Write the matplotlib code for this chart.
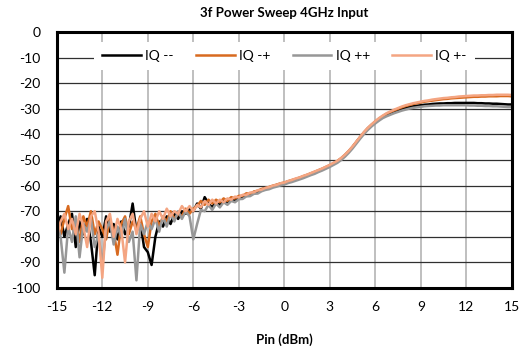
import numpy as np
import matplotlib.pyplot as plt

plt.rcParams['font.family'] = ['Lato', 'DejaVu Sans']
plt.rcParams['axes.unicode_minus'] = False

# input power sweep, 0.25 dBm step
pin = np.arange(-15, 15.001, 0.25)

iq_mm = [-78, -72, -80, -75, -71, -84, -74, -79, -73, -82, -95, -76, -80, -72, -78, -75,
         -81, -74, -79, -76, -67, -78, -74, -84, -86, -91, -80, -74, -76, -72, -75, -71,
         -73, -70, -71, -69, -70,
         -67, -69, -64.5, -67, -68.5, -66, -67.5, -65.5, -66.5, -65, -66, -64.5, -64.5, -63.5,
         -63.5, -62.5, -62.5, -61.5, -61, -60.8, -60.2, -59.8, -59.3, -59.0, -58.4, -58.0,
         -57.5, -57.0, -56.5, -55.9, -55.3, -54.8, -54.1, -53.5, -52.8, -52.1, -51.3, -50.5,
         -49.4, -48.1, -46.6, -44.9, -43.0, -41.1, -39.3, -37.7, -36.3, -35.1, -34.0, -33.1,
         -32.3, -31.7, -31.1, -30.6, -30.1, -29.7, -29.3, -29.0, -28.8, -28.6, -28.4, -28.3,
         -28.1, -28.0, -27.9, -27.9, -27.8, -27.8, -27.7, -27.7, -27.7, -27.7, -27.7, -27.7,
         -27.8, -27.8, -27.9, -27.9, -28.0, -28.0, -28.1, -28.2, -28.3, -28.3]

iq_mp = [-76, -79, -73, -68, -77, -74, -82, -72, -76, -70, -79, -74, -77, -81, -73, -78,
         -87, -75, -72, -79, -74, -77, -72, -79, -84, -74, -71, -76, -72, -74, -70, -73,
         -71, -72, -69, -71, -69,
         -68, -66, -67.5, -65.5, -67, -65.5, -66.5, -65, -66, -64.5, -65, -64, -64, -63,
         -63.2, -62.3, -62, -61.3, -61, -60.5, -60, -59.6, -59.1, -58.8, -58.3, -57.8,
         -57.4, -56.9, -56.3, -55.8, -55.2, -54.6, -54.0, -53.4, -52.7, -52.0, -51.2, -50.4,
         -49.3, -48.0, -46.5, -44.8, -42.9, -41.0, -39.2, -37.6, -36.2, -34.9, -33.8, -32.8,
         -31.9, -31.2, -30.6, -30.0, -29.4, -28.9, -28.5, -28.1, -27.8, -27.5, -27.2, -27.0,
         -26.8, -26.6, -26.4, -26.2, -26.1, -25.9, -25.8, -25.7, -25.6, -25.5, -25.4, -25.3,
         -25.3, -25.2, -25.2, -25.1, -25.1, -25.1, -25.0, -25.0, -25.0, -25.1]

iq_pp = [-74, -80, -94, -76, -82, -72, -88, -75, -78, -73, -84, -79, -91, -77, -74, -83,
         -76, -80, -73, -82, -78, -97, -75, -79, -74, -77, -73, -78, -72, -76, -71, -74,
         -70, -73, -70, -72, -81,
         -75, -69.5, -70, -67.5, -69.5, -67, -68.5, -66.5, -67.5, -66, -66.5, -65.3, -65.2,
         -64.2, -64.1, -63.2, -63.1, -62.2, -61.7, -61.4, -60.8, -60.4, -59.9, -59.6, -59.0,
         -58.6, -58.1, -57.6, -57.1, -56.5, -55.9, -55.4, -54.7, -54.1, -53.4, -52.7, -51.9,
         -51.1, -50.0, -48.7, -47.2, -45.5, -43.6, -41.7, -39.9, -38.3, -36.9, -35.7, -34.6,
         -33.6, -32.9, -32.3, -31.7, -31.2, -30.7, -30.3, -29.9, -29.6, -29.4, -29.2, -29.0,
         -28.9, -28.8, -28.7, -28.7, -28.6, -28.6, -28.6, -28.6, -28.6, -28.6, -28.6, -28.7,
         -28.7, -28.8, -28.8, -28.9, -28.9, -29.0, -29.0, -29.1, -29.2, -29.3, -29.3]

iq_pm = [-80, -74, -71, -77, -73, -79, -71, -76, -84, -72, -70, -78, -96, -74, -71, -80,
         -73, -77, -90, -74, -71, -79, -73, -70, -76, -71, -74, -70, -73, -69, -72, -70,
         -71, -68, -70, -68, -70,
         -67.5, -68.5, -66, -67.5, -65.5, -67, -65.5, -66.5, -65, -65.5, -64.3, -64.6, -63.6,
         -63.6, -62.7, -62.6, -61.8, -61.6, -60.9, -60.6, -60.0, -59.7, -59.1, -58.8, -58.2,
         -57.8, -57.2, -56.8, -56.2, -55.7, -55.1, -54.5, -53.9, -53.3, -52.6, -51.9, -51.1,
         -50.3, -49.2, -47.9, -46.4, -44.7, -42.8, -40.9, -39.1, -37.5, -36.1, -34.8, -33.6,
         -32.6, -31.7, -31.0, -30.3, -29.7, -29.1, -28.6, -28.2, -27.8, -27.5, -27.2, -26.9,
         -26.7, -26.4, -26.2, -26.0, -25.8, -25.7, -25.5, -25.4, -25.2, -25.1, -25.0, -24.9,
         -24.8, -24.8, -24.7, -24.7, -24.6, -24.6, -24.5, -24.5, -24.5, -24.5, -24.6]

series = [("IQ --", iq_mm, "#000000"),
          ("IQ -+", iq_mp, "#D86A20"),
          ("IQ ++", iq_pp, "#979797"),
          ("IQ +-", iq_pm, "#F4A582")]

fig = plt.figure(figsize=(5.26, 3.56), dpi=100)
ax = fig.add_axes([0.108, 0.191, 0.865, 0.719])

for name, vals, col in series:
    ax.plot(pin, vals, color=col, lw=1.8, label=name)

ax.set_xlim(-15, 15)
ax.set_ylim(-100, 0)
ax.set_xticks(np.arange(-15, 16, 3))
ax.set_yticks(np.arange(-100, 1, 10))
ax.tick_params(length=0, labelsize=10)
ax.tick_params(axis="x", pad=9)
ax.tick_params(axis="y", pad=12)
ax.xaxis.grid(True, color="#b4b4b4", lw=1.2)
ax.yaxis.grid(True, color="#303030", lw=0.9)
ax.set_axisbelow(True)
for s in ax.spines.values():
    s.set_linewidth(2.2)
    s.set_color("black")

ax.set_title("3f Power Sweep 4GHz Input", fontsize=9.5, fontweight="bold", pad=11)
ax.set_xlabel("Pin (dBm)", fontsize=9.5, fontweight="bold", labelpad=15)

leg = ax.legend(loc="upper center", bbox_to_anchor=(0.5, 0.99), ncol=4, fontsize=10,
                frameon=True, framealpha=1, edgecolor="none", fancybox=False,
                handlelength=2.8, columnspacing=1.6, handletextpad=0.3,
                borderpad=0.6)

fig.savefig("out.png", dpi=100)
